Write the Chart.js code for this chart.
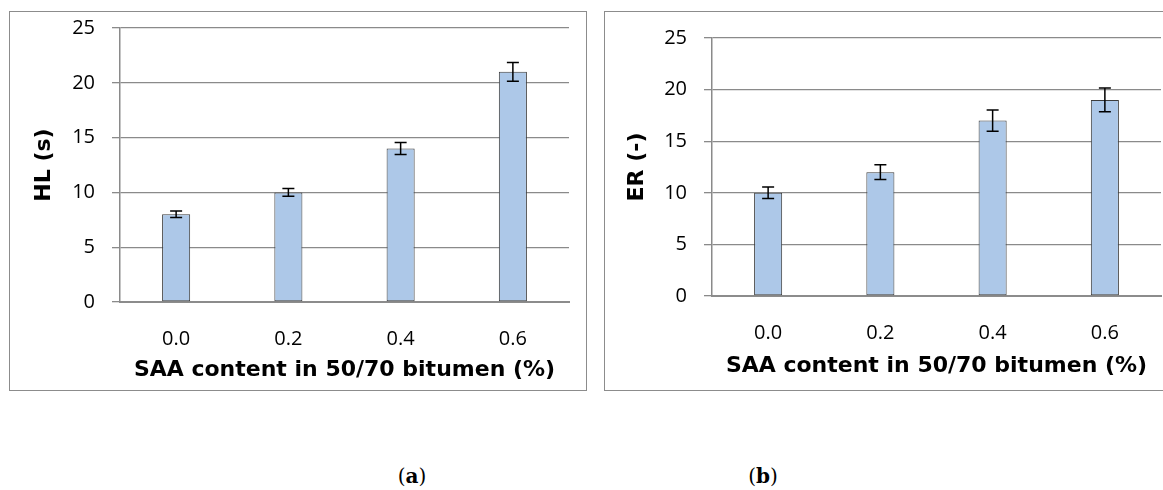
<!DOCTYPE html>
<html lang="en">
<head>
<meta charset="UTF-8">
<title>HL and ER vs SAA content</title>
<style>
    body { margin: 0; width: 1163px; height: 490px; overflow: hidden; background: #fff; position: relative; }
    .frame { position: absolute; box-sizing: border-box; border: 1px solid #8c8c8c; }
    canvas { position: absolute; }
    .caption { position: absolute; top: 464px; font-family: "DejaVu Serif", serif; font-size: 20px; color: #000; transform: translateX(-50%); }
</style>
</head>
<body>
<div class="frame" style="left:9px; top:11px; width:578px; height:380px;"></div>
<div class="frame" style="left:604px; top:11px; width:600px; height:380px;"></div>
<canvas id="chartA" width="577" height="379" style="left:9px; top:11px;"></canvas>
<canvas id="chartB" width="559" height="379" style="left:604px; top:11px;"></canvas>
<div class="caption" style="left:412px;">(<b>a</b>)</div>
<div class="caption" style="left:763px;">(<b>b</b>)</div>

<script src="https://cdn.jsdelivr.net/npm/chart.js@4/dist/chart.umd.min.js"></script>
<script>
    // data
    const saaContent = ['0.0', '0.2', '0.4', '0.6'];
    const hlValues = [8, 10, 14, 21];
    const hlErrors = [0.3, 0.35, 0.55, 0.85];
    const erValues = [10, 12, 17, 19];
    const erErrors = [0.55, 0.72, 1.03, 1.15];
    const yTicks = [0, 5, 10, 15, 20, 25];

    const xTitle = 'SAA content in 50/70 bitumen (%)';
    const fontFamily = '"Open Sans", "DejaVu Sans", sans-serif';
    const titleFamily = '"DejaVu Sans", sans-serif';

    // draws the +/- error bars using the chart's own scales
    const errorBars = {
        id: 'errorBars',
        afterDatasetsDraw(chart, args, opts) {
            const ctx = chart.ctx;
            const meta = chart.getDatasetMeta(0);
            const y = chart.scales.y;
            const values = chart.data.datasets[0].data;
            ctx.save();
            ctx.strokeStyle = '#000';
            ctx.lineWidth = 1.5;
            meta.data.forEach((bar, i) => {
                const top = y.getPixelForValue(values[i] + opts.errors[i]);
                const bottom = y.getPixelForValue(values[i] - opts.errors[i]);
                const half = 6;
                ctx.beginPath();
                ctx.moveTo(bar.x, top);
                ctx.lineTo(bar.x, bottom);
                ctx.moveTo(bar.x - half, top);
                ctx.lineTo(bar.x + half, top);
                ctx.moveTo(bar.x - half, bottom);
                ctx.lineTo(bar.x + half, bottom);
                ctx.stroke();
            });
            ctx.restore();
        }
    };

    function makeChart(id, values, errors, yTitle, cfg) {
        return new Chart(document.getElementById(id), {
            type: 'bar',
            data: {
                labels: saaContent,
                datasets: [{
                    data: values,
                    backgroundColor: '#adc8e8',
                    borderColor: '#3c3c3c',
                    borderWidth: 1,
                    borderSkipped: false,
                    barPercentage: 0.25,
                    categoryPercentage: 1
                }]
            },
            options: {
                responsive: false,
                animation: false,
                layout: { autoPadding: false, padding: { top: cfg.top, right: cfg.right, left: 0, bottom: 0 } },
                plugins: {
                    legend: { display: false },
                    tooltip: { enabled: false },
                    errorBars: { errors: errors }
                },
                scales: {
                    x: {
                        grid: { display: false, drawTicks: false },
                        border: { display: true, color: '#8c8c8c', width: 2 },
                        ticks: { color: '#000', padding: cfg.xPad, font: { family: fontFamily, size: 20 } },
                        title: {
                            display: true, text: xTitle, color: '#000',
                            padding: { top: 0, bottom: cfg.xTitlePad },
                            font: { family: titleFamily, size: 22, weight: 'bold' }
                        },
                        afterFit: (scale) => {
                            scale.height = cfg.xHeight;
                            scale.paddingLeft = 0;
                            scale.paddingRight = 0;
                        }
                    },
                    y: {
                        min: 0,
                        max: 25,
                        afterBuildTicks: (scale) => { scale.ticks = yTicks.map(v => ({ value: v })); },
                        grid: { color: '#8a8a8a', lineWidth: 1.3, tickLength: 8 },
                        border: { display: true, color: '#8a8a8a', width: 1.5 },
                        ticks: { color: '#000', padding: 17, font: { family: fontFamily, size: 20 } },
                        title: {
                            display: true, text: yTitle, color: '#000',
                            padding: { top: cfg.yTitlePad, bottom: 0 },
                            font: { family: titleFamily, size: 22, weight: 'bold' }
                        },
                        afterFit: (scale) => {
                            scale.width = cfg.yWidth;
                            scale.paddingTop = 0;
                            scale.paddingBottom = 0;
                        }
                    }
                }
            },
            plugins: [errorBars]
        });
    }

    makeChart('chartA', hlValues, hlErrors, 'HL (s)',
        { top: 17, right: 17, xHeight: 88, yWidth: 111, xPad: 25, xTitlePad: 7, yTitlePad: 22 });
    makeChart('chartB', erValues, erErrors, 'ER (-)',
        { top: 27, right: 2, xHeight: 94, yWidth: 108, xPad: 25, xTitlePad: 11, yTitlePad: 20 });
</script>
</body>
</html>
